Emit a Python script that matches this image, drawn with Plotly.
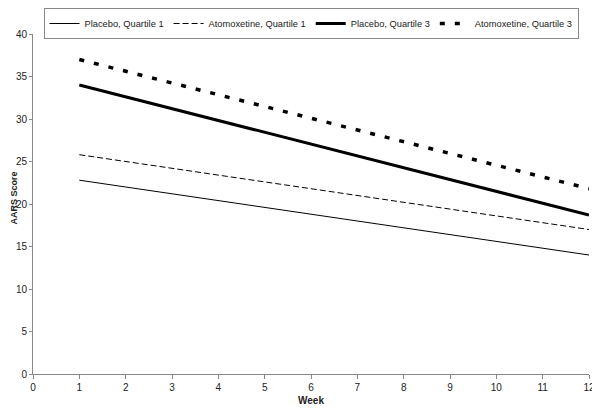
import plotly.graph_objects as go

weeks = [1, 12]
placebo_q1 = [22.8, 14.0]
atomox_q1 = [25.8, 17.0]
placebo_q3 = [34.0, 18.7]
atomox_q3 = [37.0, 21.8]

x_ticks = list(range(0, 13))
y_ticks = list(range(0, 41, 5))

# The page body has an 8px margin, so the figure is sized to the visible area.
W, H = 592, 401
ML, MR, MT, MB = 25, 11, 26, 35
plot_w = W - ML - MR
plot_h = H - MT - MB

fig = go.Figure()
fig.add_trace(go.Scatter(x=weeks, y=placebo_q1, mode="lines", name="Placebo, Quartile 1",
                         line=dict(color="black", width=1)))
fig.add_trace(go.Scatter(x=weeks, y=atomox_q1, mode="lines", name="Atomoxetine, Quartile 1",
                         line=dict(color="black", width=1, dash="6px,3px")))
fig.add_trace(go.Scatter(x=weeks, y=placebo_q3, mode="lines", name="Placebo, Quartile 3",
                         line=dict(color="black", width=3)))
fig.add_trace(go.Scatter(x=weeks, y=atomox_q3, mode="lines", name="Atomoxetine, Quartile 3",
                         line=dict(color="black", width=3.5, dash="5px,10px")))

fig.update_layout(
    width=W, height=H,
    margin=dict(l=ML, r=MR, t=MT, b=MB, autoexpand=False),
    paper_bgcolor="white", plot_bgcolor="white",
    font=dict(family="Liberation Sans, Arial", size=10, color="#222"),
    showlegend=True,
    legend=dict(orientation="h", x=0.5, xanchor="center",
                y=(plot_h + MT) / plot_h, yanchor="top",
                bordercolor="#888", borderwidth=1,
                font=dict(size=9.3), tracegroupgap=0, itemwidth=30,
                bgcolor="white"),
    xaxis=dict(range=[0, 12], tickvals=x_ticks, showgrid=False, zeroline=False,
               showline=True, linecolor="#888", linewidth=1, ticks="outside",
               tickcolor="#888", ticklen=4, automargin=False),
    yaxis=dict(range=[0, 40], tickvals=y_ticks, showgrid=False, zeroline=False,
               showline=True, linecolor="#888", linewidth=1, ticks="outside",
               tickcolor="#888", ticklen=3, automargin=False),
    annotations=[
        dict(text="<b>AARS Score</b>", x=-(ML - 5.5) / plot_w, xref="paper",
             y=1 - (190 - MT) / plot_h, yref="paper",
             xanchor="center", yanchor="middle", showarrow=False, textangle=-90,
             borderpad=0, font=dict(size=9)),
        dict(text="<b>Week</b>", x=0.5, xref="paper", y=-26 / plot_h, yref="paper",
             yanchor="middle", showarrow=False, font=dict(size=10)),
    ],
)

fig.write_html("out.html")
